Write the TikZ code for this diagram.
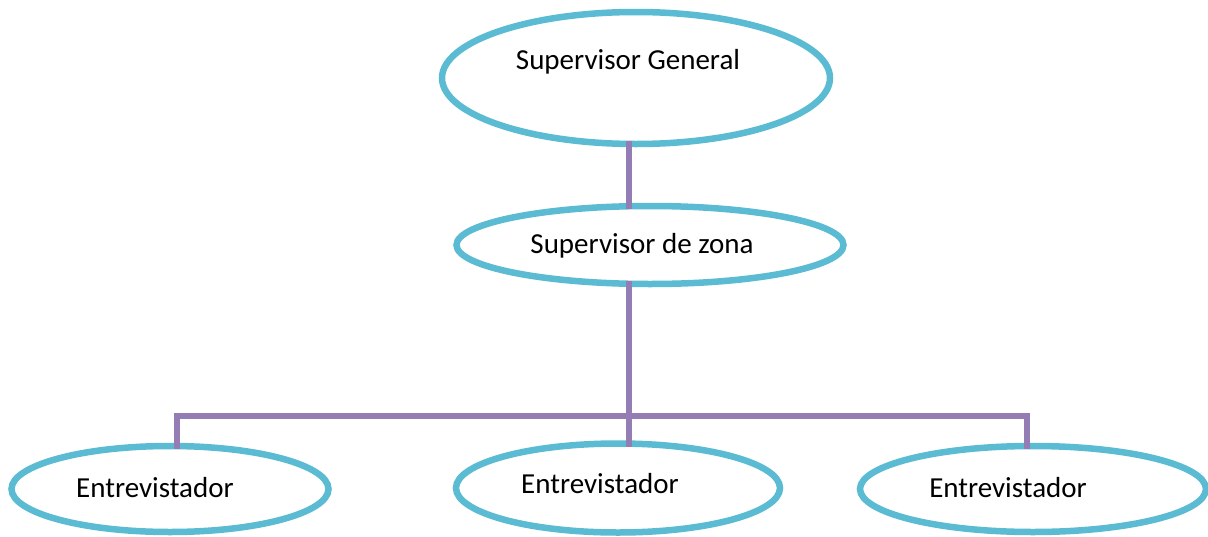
\documentclass[tikz,border=0pt]{standalone}
\usepackage{fontspec}
\setmainfont{Carlito}
\usetikzlibrary{shapes.geometric}
\definecolor{ellcol}{RGB}{90,187,210}
\definecolor{linecol}{RGB}{148,124,180}
\tikzset{
  ell/.style={ellipse, draw=ellcol, line width=6.5pt, fill=white, inner sep=0pt, outer sep=0pt},
  conn/.style={draw=linecol, line width=5.5pt},
  lbl/.style={anchor=base, inner sep=0pt, font=\fontsize{29}{34}\selectfont}
}
\begin{document}
\begin{tikzpicture}[x=1pt,y=-1pt]
\useasboundingbox (0,0) rectangle (1208,536);
\coordinate (bus) at (629,416);
\coordinate (busL) at (177,416);
\coordinate (busR) at (1027,416);
\node[ell, minimum width=388pt, minimum height=132pt] (sg) at (636,78) {};
\node[ell, minimum width=387pt, minimum height=78pt] (sz) at (650,245) {};
\node[ell, minimum width=317pt, minimum height=86pt] (el) at (170,489) {};
\node[ell, minimum width=324pt, minimum height=89pt] (em) at (618,488) {};
\node[ell, minimum width=346pt, minimum height=86pt] (er) at (1033,489) {};
\draw[conn] ([yshift=3pt]bus |- sg.south) -- ([yshift=-3pt]bus |- sz.north);
\draw[conn] ([yshift=3pt]bus |- sz.south) -- ([yshift=-3pt]bus |- em.north);
\draw[conn, line cap=rect] (busL) -- (busR);
\draw[conn] (busL) -- ([yshift=-3pt]busL |- el.north);
\draw[conn] (busR) -- ([yshift=-3pt]busR |- er.north);
\node[lbl] (tsg) at (628,69) {Supervisor General};
\node[lbl] (tsz) at (642,253) {Supervisor de zona};
\node[lbl] (tel) at (155,497) {Entrevistador};
\node[lbl] (tem) at (600,493) {Entrevistador};
\node[lbl] (ter) at (1008,497) {Entrevistador};
\end{tikzpicture}
\end{document}
